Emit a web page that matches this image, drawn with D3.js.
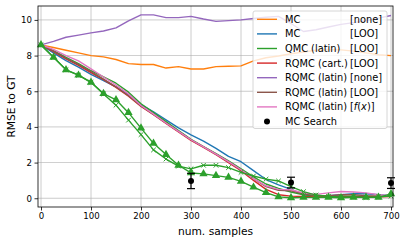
<!DOCTYPE html>
<html><head><meta charset="utf-8">
<script src="https://cdn.jsdelivr.net/npm/d3@7"></script>
<style>body{margin:0;background:#fff}svg{display:block}text{font-family:"DejaVu Sans",sans-serif}</style>
</head><body><svg id="c" width="407" height="243"></svg>
<script>
const samples = [0,25,50,75,100,125,150,175,200,225,250,275,300,325,350,375,400,425,450,475,500,525,550,575,600,625,650,675,700];
const mcNone   = [8.6,8.45,8.3,8.15,8.0,7.93,7.78,7.55,7.5,7.5,7.3,7.38,7.25,7.25,7.38,7.4,7.42,7.7,7.88,7.98,8.1,8.2,8.3,8.32,8.32,8.25,8.15,8.05,8.0];
const mcLoo    = [8.6,8.15,7.72,7.35,6.95,6.6,6.25,5.8,5.25,4.85,4.4,3.95,3.55,3.2,2.8,2.35,2.05,1.55,1.05,0.75,0.5,0.2,0.12,0.15,0.2,0.25,0.25,0.2,0.15];
const qmcLatinLoo = [8.6,8.28,7.9,7.55,7.15,6.8,6.45,5.95,5.3,4.8,4.3,3.8,3.3,2.9,2.5,2.1,1.65,1.2,0.8,0.55,0.35,0.2,0.15,0.12,0.12,0.12,0.1,0.1,0.12];
const rqmcCartLoo = [8.6,8.22,7.82,7.45,7.05,6.65,6.22,5.72,5.15,4.68,4.2,3.72,3.25,2.85,2.45,2.0,1.55,1.0,0.5,0.2,0.12,0.1,0.08,0.08,0.1,0.08,0.08,0.08,0.1];
const rqmcLatinNone = [8.6,8.8,9.03,9.15,9.27,9.38,9.55,9.95,10.28,10.28,10.13,10.13,10.2,10.05,9.92,9.96,10.0,10.08,10.15,10.2,9.8,9.35,9.45,9.6,9.75,9.85,9.95,10.1,10.25];
const rqmcLatinLoo = [8.6,8.25,7.85,7.5,7.1,6.68,6.25,5.75,5.18,4.7,4.22,3.75,3.28,2.88,2.48,2.05,1.6,1.1,0.65,0.45,0.42,0.25,0.15,0.15,0.2,0.2,0.15,0.12,0.12];
const rqmcLatinFx = [8.6,8.35,8.0,7.7,7.25,6.8,6.35,5.85,5.2,4.72,4.22,3.75,3.28,2.88,2.48,2.05,1.6,1.1,0.7,0.5,0.48,0.3,0.22,0.3,0.38,0.35,0.3,0.2,0.15];
const qmcTri   = [8.6,7.9,7.2,6.9,6.5,5.87,5.52,4.8,3.93,3.08,2.45,1.85,1.42,1.37,1.27,1.17,0.95,0.62,0.32,0.08,0.03,0.05,0.05,0.05,0.03,0.05,0.05,0.05,0.25];
const qmcX     = [8.6,7.9,7.2,6.9,6.5,5.85,5.22,4.38,3.57,2.71,2.2,1.8,1.65,1.85,1.85,1.72,1.45,1.25,1.07,0.97,0.65,0.37,0.18,0.1,0.08,0.08,0.05,0.08,0.12];
const searchX = [300,500,700];
const searchMean = [0.97,0.88,0.85];
const searchErr = [0.43,0.3,0.3];
const xTicks = [0,100,200,300,400,500,600,700];
const yTicks = [0,2,4,6,8,10];
const legendNames = ["MC","MC","QMC (latin)","RQMC (cart.)","RQMC (latin)","RQMC (latin)","RQMC (latin)","MC Search"];
const legendTags = ["[none]","[LOO]","[LOO]","[LOO]","[none]","[LOO]","f(x)",""];

const svg = d3.select("#c");
const L=38,R=393,T=6,B=207;
const x = d3.scaleLinear().domain([-6,704]).range([L,R]);
const y = d3.scaleLinear().domain([-0.49,10.78]).range([B,T]);

svg.append("defs").append("clipPath").attr("id","clip").append("rect").attr("x",L).attr("y",T).attr("width",R-L).attr("height",B-T);

// grid
const g = svg.append("g");
g.selectAll(".gx").data(xTicks).join("line").attr("x1",d=>x(d)).attr("x2",d=>x(d)).attr("y1",T).attr("y2",B).attr("stroke","#b0b0b0").attr("stroke-width",0.8).attr("opacity",0.8);
g.selectAll(".gy").data(yTicks).join("line").attr("y1",d=>y(d)).attr("y2",d=>y(d)).attr("x1",L).attr("x2",R).attr("stroke","#b0b0b0").attr("stroke-width",0.8).attr("opacity",0.8);

const series = [
 {v:mcNone,c:"#ff7f0e"},
 {v:mcLoo,c:"#1f77b4"},
 {v:qmcLatinLoo,c:"#2ca02c"},
 {v:rqmcCartLoo,c:"#d62728"},
 {v:rqmcLatinNone,c:"#9467bd"},
 {v:rqmcLatinLoo,c:"#8c564b"},
 {v:rqmcLatinFx,c:"#e377c2"},
 {v:qmcTri,c:"#2ca02c",m:"tri"},
 {v:qmcX,c:"#2ca02c",m:"x"}
];
const line = d3.line().x((d,i)=>x(samples[i])).y(d=>y(d));
const plot = svg.append("g").attr("clip-path","url(#clip)");
series.forEach(s=>{
  plot.append("path").attr("d",line(s.v)).attr("fill","none").attr("stroke",s.c).attr("stroke-width",1.4).attr("stroke-linejoin","round");
});
series.filter(s=>s.m).forEach(s=>{
  const pts = svg.append("g");
  s.v.forEach((v,i)=>{
    const px=x(samples[i]), py=y(v);
    if(s.m==="tri"){
      pts.append("path").attr("d",d3.symbol(d3.symbolTriangle,30)()).attr("transform",`translate(${px},${py})`).attr("fill",s.c);
    } else {
      pts.append("path").attr("d",`M${px-2.3},${py-2.3}L${px+2.3},${py+2.3}M${px-2.3},${py+2.3}L${px+2.3},${py-2.3}`).attr("stroke",s.c).attr("stroke-width",1);
    }
  });
});
// MC search
const sg = svg.append("g");
searchX.forEach((sx,i)=>{
  const px=x(sx);
  sg.append("line").attr("x1",px).attr("x2",px).attr("y1",y(searchMean[i]+searchErr[i])).attr("y2",y(searchMean[i]-searchErr[i])).attr("stroke","#000").attr("stroke-width",1.2);
  [searchMean[i]+searchErr[i],searchMean[i]-searchErr[i]].forEach(e=>{
    sg.append("line").attr("x1",px-4).attr("x2",px+4).attr("y1",y(e)).attr("y2",y(e)).attr("stroke","#000").attr("stroke-width",1.2);
  });
  sg.append("circle").attr("cx",px).attr("cy",y(searchMean[i])).attr("r",3).attr("fill","#000");
});

// axes
const xa = svg.append("g").attr("transform",`translate(0,${B})`).call(d3.axisBottom(x).tickValues(xTicks).tickSize(3.5).tickPadding(2).tickFormat(d3.format("d")));
const ya = svg.append("g").attr("transform",`translate(${L},0)`).call(d3.axisLeft(y).tickValues(yTicks).tickSize(3.5).tickPadding(2.5).tickFormat(d3.format("d")));
[xa,ya].forEach(a=>{a.select(".domain").remove();a.selectAll("text").attr("font-size","8.6px").attr("fill","#000").attr("font-family","DejaVu Sans");a.selectAll("line").attr("stroke","#000").attr("stroke-width",0.8);});
svg.append("rect").attr("x",L).attr("y",T).attr("width",R-L).attr("height",B-T).attr("fill","none").attr("stroke","#000").attr("stroke-width",0.8);

svg.append("text").attr("x",(L+R)/2).attr("y",235).attr("text-anchor","middle").attr("font-size","10.7px").text("num. samples");
svg.append("text").attr("transform",`translate(15,${(T+B)/2}) rotate(-90)`).attr("text-anchor","middle").attr("font-size","10.7px").text("RMSE to GT");

// legend
const lg = svg.append("g");
lg.append("rect").attr("x",253).attr("y",11).attr("width",134).attr("height",117.5).attr("rx",2).attr("fill","#fff").attr("fill-opacity",0.8).attr("stroke","#cccccc").attr("stroke-width",0.8);
const colors = ["#ff7f0e","#1f77b4","#2ca02c","#d62728","#9467bd","#8c564b","#e377c2","#000"];
legendNames.forEach((n,i)=>{
  const cy = 19.3 + i*14.6;
  if(i<7) lg.append("line").attr("x1",257).attr("x2",277).attr("y1",cy).attr("y2",cy).attr("stroke",colors[i]).attr("stroke-width",1.4);
  else lg.append("circle").attr("cx",267).attr("cy",cy).attr("r",3).attr("fill","#000");
  lg.append("text").attr("x",285).attr("y",cy+3.5).attr("font-size","9.8px").text(n);
  if(legendTags[i]==="f(x)"){
    const t = lg.append("text").attr("x",350).attr("y",cy+3.5).attr("font-size","9.8px");
    t.append("tspan").text("[");
    t.append("tspan").attr("font-style","italic").text("f");
    t.append("tspan").text("(");
    t.append("tspan").attr("font-style","italic").text("x");
    t.append("tspan").text(")]");
  } else if(legendTags[i]) {
    lg.append("text").attr("x",350).attr("y",cy+3.5).attr("font-size","9.8px").text(legendTags[i]);
  }
});
</script></body></html>
